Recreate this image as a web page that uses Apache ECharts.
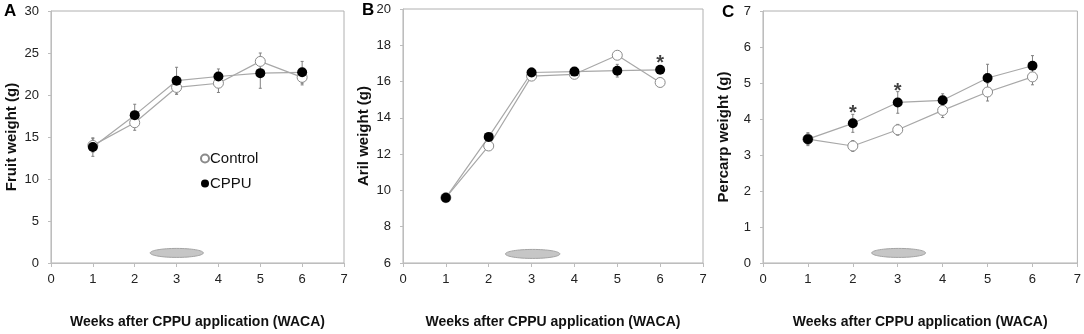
<!DOCTYPE html>
<html>
<head>
<meta charset="utf-8">
<script src="https://cdn.jsdelivr.net/npm/echarts@6/dist/echarts.min.js"></script>
<style>
  html, body { margin: 0; background: #fff; }
  #chart { width: 1084px; height: 334px; }
</style>
</head>
<body>
<div id="chart"></div>
<script>
const weeks = [1, 2, 3, 4, 5, 6];

// A - fruit weight (g)
const fruitControl = [14.0, 16.7, 20.9, 21.4, 24.0, 22.1];
const fruitControlErr = [0.8, 0.9, 0.8, 1.1, 1.0, 0.9];
const fruitCppu = [13.8, 17.6, 21.7, 22.2, 22.6, 22.7];
const fruitCppuErr = [1.1, 1.3, 1.6, 0.9, 1.8, 1.3];

// B - aril weight (g)
const arilControl = [9.6, 12.45, 16.3, 16.4, 17.45, 15.95];
const arilControlErr = [0.1, 0.15, 0.15, 0.1, 0.2, 0.1];
const arilCppu = [9.6, 12.95, 16.5, 16.55, 16.6, 16.65];
const arilCppuErr = [0.1, 0.15, 0.25, 0.1, 0.35, 0.15];

// C - pericarp weight (g)
const pericarpControl = [3.44, 3.25, 3.7, 4.24, 4.75, 5.17];
const pericarpControlErr = [0.15, 0.15, 0.15, 0.2, 0.25, 0.22];
const pericarpCppu = [3.44, 3.88, 4.46, 4.52, 5.14, 5.48];
const pericarpCppuErr = [0.18, 0.25, 0.3, 0.18, 0.38, 0.28];

// significance marks [week, y]
const arilStars = [[6, 17.3]];
const pericarpStars = [[2, 4.3], [3, 4.9]];

// CPPU application window [fromWeek, toWeek, y]
const sprayA = [2.37, 3.64, 1.2];
const sprayB = [2.39, 3.66, 6.5];
const sprayC = [2.42, 3.62, 0.28];

const panelLetters = ["A", "B", "C"];
const yNames = ["Fruit weight (g)", "Aril weight (g)", "Percarp weight (g)"];
const yRanges = [[0, 30, 5], [6, 20, 2], [0, 7, 1]];
const xTitle = "Weeks after CPPU application (WACA)";

const FONT = '"Liberation Sans Narrow", "Liberation Sans", Arial, sans-serif';
const LINE = "#a8a8a8";

function errorSeries(idx, values, errs) {
  return {
    type: "custom",
    xAxisIndex: idx,
    yAxisIndex: idx,
    silent: true,
    z: 1,
    data: weeks.map((w, i) => [w, values[i] - errs[i], values[i] + errs[i]]),
    encode: { x: 0, y: [1, 2] },
    renderItem(params, api) {
      const lo = api.coord([api.value(0), api.value(1)]);
      const hi = api.coord([api.value(0), api.value(2)]);
      const st = { stroke: "#808080", lineWidth: 1 };
      return {
        type: "group",
        children: [
          { type: "line", shape: { x1: lo[0], y1: lo[1], x2: hi[0], y2: hi[1] }, style: st },
          { type: "line", shape: { x1: lo[0] - 1.5, y1: lo[1], x2: lo[0] + 1.5, y2: lo[1] }, style: st },
          { type: "line", shape: { x1: hi[0] - 1.5, y1: hi[1], x2: hi[0] + 1.5, y2: hi[1] }, style: st },
        ],
      };
    },
  };
}

function lineSeries(idx, name, values, filled) {
  return {
    name,
    type: "line",
    xAxisIndex: idx,
    yAxisIndex: idx,
    data: weeks.map((w, i) => [w, values[i]]),
    symbol: "circle",
    symbolSize: 10,
    z: 3,
    lineStyle: { color: LINE, width: 1.2 },
    itemStyle: filled
      ? { color: "#000", borderColor: "#000", borderWidth: 0 }
      : { color: "#fff", borderColor: "#8a8a8a", borderWidth: 1 },
  };
}

function spraySeries(idx, spray) {
  return {
    type: "custom",
    xAxisIndex: idx,
    yAxisIndex: idx,
    silent: true,
    z: 1,
    data: [spray],
    encode: { x: [0, 1], y: 2 },
    renderItem(params, api) {
      const p0 = api.coord([api.value(0), api.value(2)]);
      const p1 = api.coord([api.value(1), api.value(2)]);
      return {
        type: "ellipse",
        shape: { cx: (p0[0] + p1[0]) / 2, cy: p0[1], rx: (p1[0] - p0[0]) / 2, ry: 4.5 },
        style: { fill: "#c6c6c6", stroke: "#a4a4a4", lineWidth: 1 },
      };
    },
  };
}

function starSeries(idx, stars) {
  return {
    type: "scatter",
    xAxisIndex: idx,
    yAxisIndex: idx,
    silent: true,
    symbolSize: 0,
    z: 4,
    data: stars,
    label: {
      show: true,
      position: "inside",
      offset: [0, 5],
      formatter: "*",
      fontSize: 20,
      fontWeight: "bold",
      color: "#111",
      fontFamily: FONT,
    },
  };
}

const grids = [
  { left: 51, top: 11, width: 293, height: 253 },
  { left: 403, top: 9, width: 300, height: 256 },
  { left: 763, top: 11, width: 315, height: 255 },
];

const chart = echarts.init(document.getElementById("chart"), null, { renderer: "canvas" });

chart.setOption({
  animation: false,
  backgroundColor: "#fff",
  textStyle: { fontFamily: FONT },
  title: panelLetters.map((t, i) => ({
    text: t,
    left: [4, 362, 722][i],
    top: [3, 2, 4][i],
    padding: 0,
    textStyle: { fontSize: 17, fontWeight: "bold", color: "#000", fontFamily: '"Liberation Sans", Arial, sans-serif' },
  })),
  legend: {
    data: ["Control", "CPPU"],
    orient: "vertical",
    left: 195,
    top: 146,
    icon: "circle",
    itemWidth: 8,
    itemHeight: 8,
    itemGap: 10,
    selectedMode: false,
    textStyle: { fontSize: 15, color: "#111", fontFamily: FONT, padding: [0, 0, 0, -4] },
  },
  grid: grids.map((g) => ({ ...g, show: true, borderColor: "#b0b0b0", borderWidth: 1, backgroundColor: "transparent" })),
  xAxis: grids.map((g, i) => ({
    type: "value",
    gridIndex: i,
    min: 0,
    max: 7,
    interval: 1,
    name: xTitle,
    nameLocation: "middle",
    nameGap: 52,
    nameTextStyle: { fontSize: 14, fontWeight: "bold", color: "#111", fontFamily: FONT },
    axisLine: { show: true, lineStyle: { color: "#bdbdbd", width: 1 } },
    axisTick: { show: true, length: 4, lineStyle: { color: "#bdbdbd" } },
    axisLabel: { fontSize: 13, color: "#222", margin: 10, fontFamily: FONT },
    splitLine: { show: false },
  })),
  yAxis: yRanges.map((r, i) => ({
    type: "value",
    gridIndex: i,
    min: r[0],
    max: r[1],
    interval: r[2],
    name: yNames[i],
    nameLocation: "middle",
    nameGap: 32,
    nameTextStyle: { fontSize: 15, fontWeight: "bold", color: "#111", fontFamily: FONT },
    axisLine: { show: true, lineStyle: { color: "#bdbdbd", width: 1 } },
    axisTick: { show: true, length: 3, lineStyle: { color: "#bdbdbd" } },
    axisLabel: { fontSize: 13, color: "#222", margin: 12, fontFamily: FONT },
    splitLine: { show: false },
  })),
  series: [
    spraySeries(0, sprayA),
    errorSeries(0, fruitControl, fruitControlErr),
    errorSeries(0, fruitCppu, fruitCppuErr),
    lineSeries(0, "Control", fruitControl, false),
    lineSeries(0, "CPPU", fruitCppu, true),

    spraySeries(1, sprayB),
    errorSeries(1, arilControl, arilControlErr),
    errorSeries(1, arilCppu, arilCppuErr),
    lineSeries(1, "Control", arilControl, false),
    lineSeries(1, "CPPU", arilCppu, true),
    starSeries(1, arilStars),

    spraySeries(2, sprayC),
    errorSeries(2, pericarpControl, pericarpControlErr),
    errorSeries(2, pericarpCppu, pericarpCppuErr),
    lineSeries(2, "Control", pericarpControl, false),
    lineSeries(2, "CPPU", pericarpCppu, true),
    starSeries(2, pericarpStars),
  ],
});
</script>
</body>
</html>
